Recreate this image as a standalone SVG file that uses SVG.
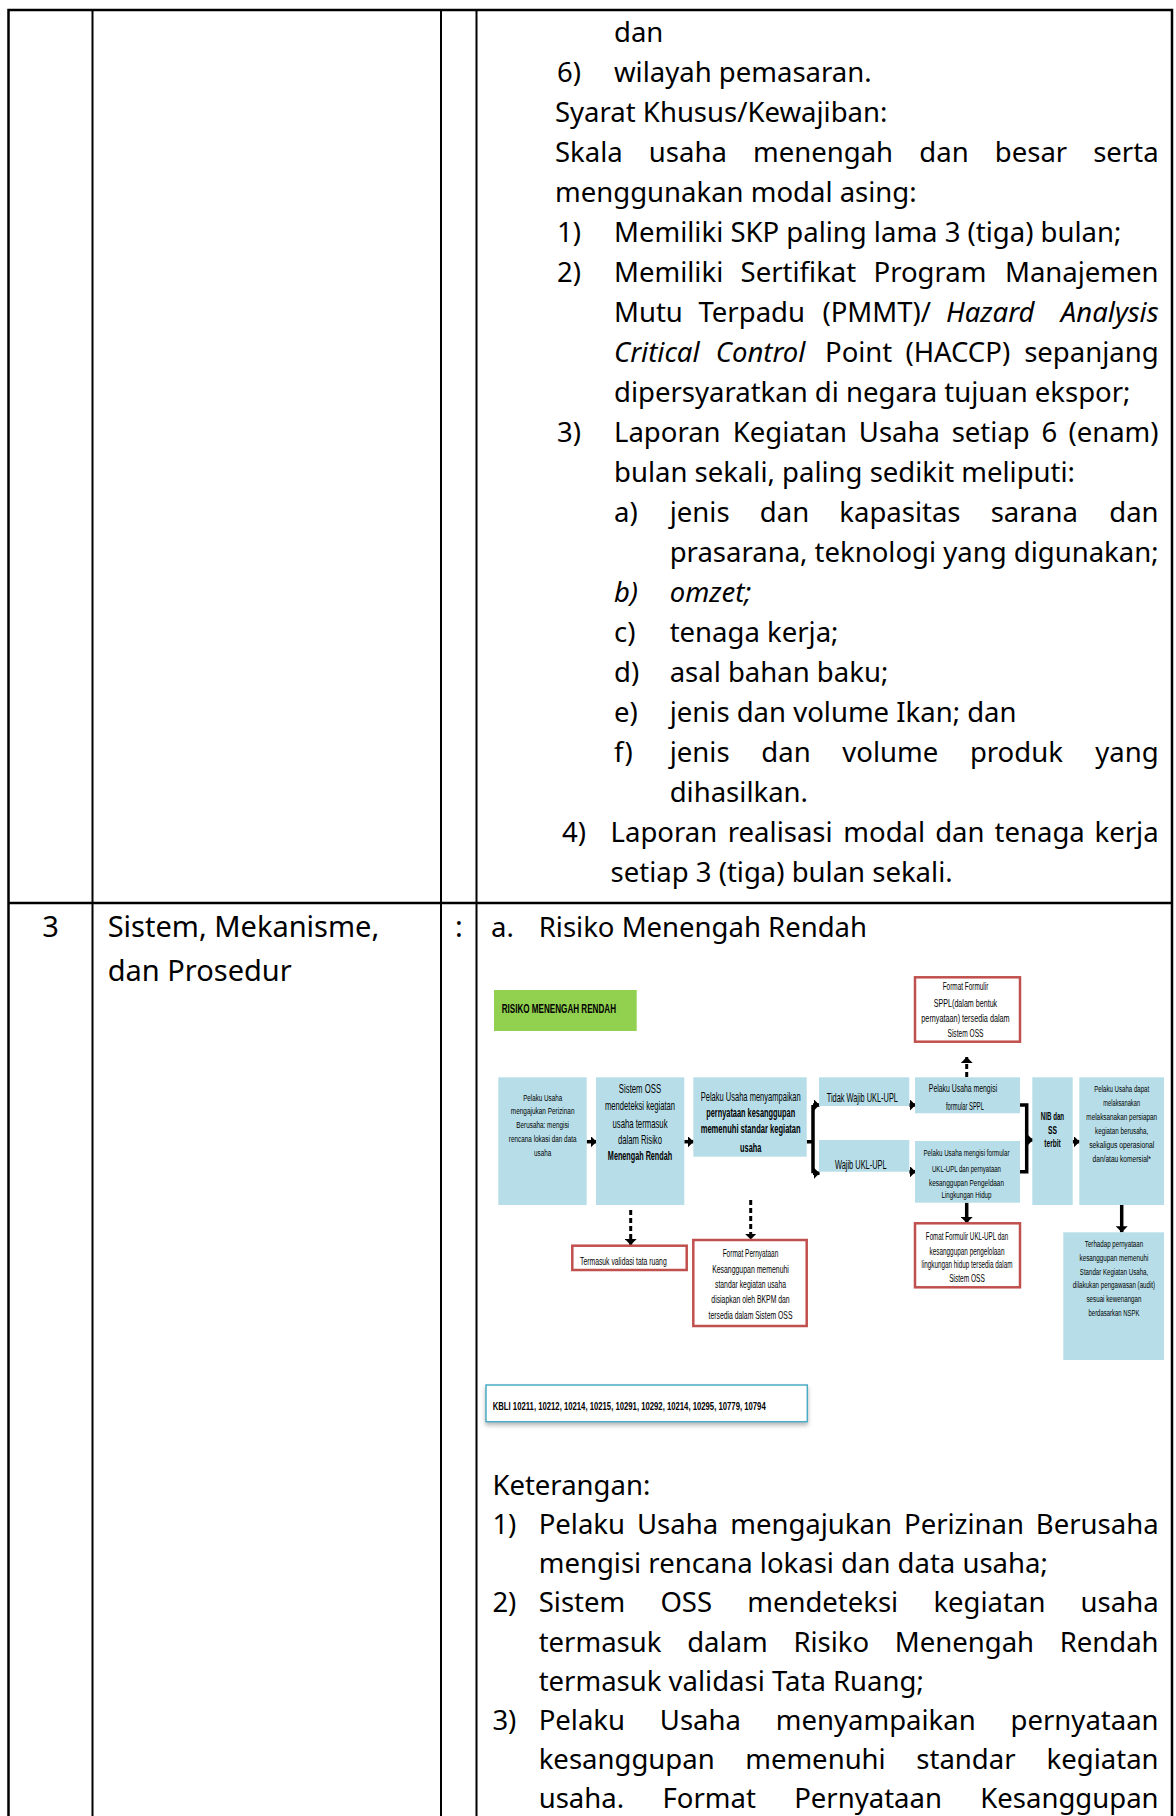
<svg xmlns="http://www.w3.org/2000/svg" width="1176" height="1816" viewBox="0 0 1176 1816">
<style>
.t{font-family:"Noto Sans","Open Sans",sans-serif;font-size:27.5px;fill:#000}
.t3{font-family:"Noto Sans","Open Sans",sans-serif;font-size:29px;fill:#000}
.it{font-style:italic}
.e{text-anchor:end}
.tl{stroke:#000;stroke-width:2.5;fill:none}
.tli{stroke:#000;stroke-width:2;fill:none}
.d{font-family:"Liberation Sans",Arial,sans-serif;font-size:10px;fill:#000;text-anchor:middle}
.s{text-anchor:start}
.ds{font-size:9.5px}
.dl{font-size:12px}
.b{font-weight:bold}
.blue{fill:#B7DEE8}
.red{fill:#fff;stroke:#C0504D;stroke-width:2.5}
.c{stroke:#000;stroke-width:3.5;fill:none}
.cd{stroke:#000;stroke-width:3;fill:none;stroke-dasharray:5 3}
</style>
<defs>
<marker id="ah" viewBox="0 0 6 12" refX="6" refY="6" markerWidth="6" markerHeight="12" markerUnits="userSpaceOnUse" orient="auto"><path d="M0,0 L6,6 L0,12 Z" fill="#000"/></marker>
<marker id="ahb" viewBox="0 0 8 16" refX="8" refY="8" markerWidth="8" markerHeight="16" markerUnits="userSpaceOnUse" orient="auto"><path d="M0,0 L8,8 L0,16 Z" fill="#000"/></marker>
<filter id="sh" x="-5%" y="-20%" width="110%" height="160%"><feDropShadow dx="0" dy="3" stdDeviation="2" flood-color="#888" flood-opacity="0.6"/></filter>
</defs>
<rect width="1176" height="1816" fill="#fff"/>

<g id="table">
<path class="tl" d="M8.5,1816 V10 H1172 V1816"/>
<path class="tli" d="M92.5,10 V1816 M441,10 V1816 M476.5,10 V1816"/>
<path class="tl" d="M8.5,903 H1172"/>
</g>

<g id="upper-text">
<text class="t" x="614" y="42">dan</text>
<text class="t" x="557" y="82">6)</text><text class="t" x="614" y="82">wilayah pemasaran.</text>
<text class="t" x="555" y="122">Syarat Khusus/Kewajiban:</text>
<text class="t" y="162"><tspan x="555">Skala</tspan><tspan x="648.8">usaha</tspan><tspan x="753">menengah</tspan><tspan x="919.3">dan</tspan><tspan x="994.8">besar</tspan></text><text class="t e" x="1158.6" y="162">serta</text>
<text class="t" x="555" y="202">menggunakan modal asing:</text>
<text class="t" x="557" y="242">1)</text><text class="t" x="614" y="242">Memiliki SKP paling lama 3 (tiga) bulan;</text>
<text class="t" x="557" y="282">2)</text>
<text class="t" y="282"><tspan x="614">Memiliki</tspan><tspan x="740.6">Sertifikat</tspan><tspan x="873.5">Program</tspan></text><text class="t e" x="1158.6" y="282">Manajemen</text>
<text class="t" y="322"><tspan x="614">Mutu</tspan><tspan x="698.5">Terpadu</tspan><tspan x="822.4">(PMMT)/</tspan><tspan x="946" class="it">Hazard</tspan></text><text class="t e it" x="1158.6" y="322">Analysis</text>
<text class="t" y="362"><tspan x="614" class="it">Critical</tspan><tspan x="715.8" class="it">Control</tspan><tspan x="825">Point</tspan><tspan x="905.4">(HACCP)</tspan></text><text class="t e" x="1158.6" y="362">sepanjang</text>
<text class="t" x="614" y="402">dipersyaratkan di negara tujuan ekspor;</text>
<text class="t" x="557" y="442">3)</text>
<text class="t" y="442"><tspan x="614">Laporan</tspan><tspan x="732.8">Kegiatan</tspan><tspan x="858.8">Usaha</tspan><tspan x="951.7">setiap</tspan><tspan x="1041.4">6</tspan></text><text class="t e" x="1158.6" y="442">(enam)</text>
<text class="t" x="614" y="482">bulan sekali, paling sedikit meliputi:</text>
<text class="t" x="614" y="522">a)</text>
<text class="t" y="522"><tspan x="669.7">jenis</tspan><tspan x="759.8">dan</tspan><tspan x="839.3">kapasitas</tspan><tspan x="990.7">sarana</tspan></text><text class="t e" x="1158.6" y="522">dan</text>
<text class="t" x="669.7" y="562">prasarana, teknologi yang digunakan;</text>
<text class="t it" x="614" y="602">b)</text><text class="t it" x="669.7" y="602">omzet;</text>
<text class="t" x="614" y="642">c)</text><text class="t" x="669.7" y="642">tenaga kerja;</text>
<text class="t" x="614" y="682">d)</text><text class="t" x="669.7" y="682">asal bahan baku;</text>
<text class="t" x="614" y="722">e)</text><text class="t" x="669.7" y="722">jenis dan volume Ikan; dan</text>
<text class="t" x="614" y="762">f)</text>
<text class="t" y="762"><tspan x="669.7">jenis</tspan><tspan x="761.3">dan</tspan><tspan x="842.3">volume</tspan><tspan x="969.9">produk</tspan></text><text class="t e" x="1158.6" y="762">yang</text>
<text class="t" x="669.7" y="802">dihasilkan.</text>
<text class="t" x="562" y="842">4)</text>
<text class="t" y="842"><tspan x="610.6">Laporan</tspan><tspan x="727.8">realisasi</tspan><tspan x="843.3">modal</tspan><tspan x="935.2">dan</tspan><tspan x="994.6">tenaga</tspan></text><text class="t e" x="1158.6" y="842">kerja</text>
<text class="t" x="610.6" y="882">setiap 3 (tiga) bulan sekali.</text>
</g>

<g id="row3-text">
<text class="t3" x="50.5" y="937" text-anchor="middle">3</text>
<text class="t3" x="107.7" y="937">Sistem, Mekanisme,</text>
<text class="t3" x="107.7" y="981">dan Prosedur</text>
<text class="t3" x="458.8" y="937" text-anchor="middle">:</text>
<text class="t" x="491" y="937">a.</text>
<text class="t" x="538.7" y="937">Risiko Menengah Rendah</text>
</g>

<g id="title">
<rect x="494" y="990" width="142.7" height="41" fill="#92D050"/>
<g transform="scale(0.65,1)"><text class="d s b dl" x="771.85" y="1013.2" textLength="175.85" lengthAdjust="spacingAndGlyphs">RISIKO MENENGAH RENDAH</text></g>
</g>

<g id="connectors">
<path class="c" d="M586.7,1141.7 H596.5" marker-end="url(#ah)"/>
<path class="c" d="M684.3,1141.7 H693.5" marker-end="url(#ah)"/>
<path class="c" d="M806.7,1141.7 H813 M813,1105 V1173.3"/>
<path class="c" d="M813,1105 H819.5" marker-end="url(#ah)"/>
<path class="c" d="M813,1173.3 H819.5" marker-end="url(#ah)"/>
<path class="c" d="M909.3,1105 H915.5" marker-end="url(#ah)"/>
<path class="c" d="M909.3,1171.7 H915.5" marker-end="url(#ah)"/>
<path class="c" d="M1020,1105 H1026.7 V1171.7 H1020"/>
<path class="c" d="M1026.7,1140 H1033" marker-end="url(#ahb)"/>
<path class="c" d="M1072.7,1141.7 H1079.5" marker-end="url(#ah)"/>
<path class="cd" d="M966.7,1077 V1057" marker-end="url(#ah)"/>
<path class="cd" d="M630.7,1210 V1245" marker-end="url(#ah)"/>
<path class="cd" d="M750.7,1200 V1239.5" marker-end="url(#ah)"/>
<path class="c" d="M966.7,1202.7 V1223" marker-end="url(#ah)"/>
<path class="c" d="M1121.7,1205 V1232.3" marker-end="url(#ah)"/>
</g>

<g id="n1">
<rect class="blue" x="498.3" y="1077.3" width="88.4" height="127.7"/>
<g transform="scale(0.65,1)">
<text class="d ds" x="834.92" y="1101" textLength="60" lengthAdjust="spacingAndGlyphs">Pelaku Usaha</text>
<text class="d ds" x="834.92" y="1114.5" textLength="98" lengthAdjust="spacingAndGlyphs">mengajukan Perizinan</text>
<text class="d ds" x="834.92" y="1128.5" textLength="81.08" lengthAdjust="spacingAndGlyphs">Berusaha: mengisi</text>
<text class="d ds" x="834.92" y="1142.5" textLength="104.15" lengthAdjust="spacingAndGlyphs">rencana lokasi dan data</text>
<text class="d ds" x="834.92" y="1156" textLength="26.62" lengthAdjust="spacingAndGlyphs">usaha</text>
</g>
</g>

<g id="n2">
<rect class="blue" x="596" y="1077.3" width="88.3" height="127.7"/>
<g transform="scale(0.65,1)">
<text class="d dl" x="984.62" y="1092.7" textLength="65.08" lengthAdjust="spacingAndGlyphs">Sistem OSS</text>
<text class="d dl" x="984.62" y="1110.4" textLength="107.69" lengthAdjust="spacingAndGlyphs">mendeteksi kegiatan</text>
<text class="d dl" x="984.62" y="1127.7" textLength="84.62" lengthAdjust="spacingAndGlyphs">usaha termasuk</text>
<text class="d dl" x="984.62" y="1144.4" textLength="67.69" lengthAdjust="spacingAndGlyphs">dalam Risiko</text>
<text class="d dl b" x="984.62" y="1159.7" textLength="98.92" lengthAdjust="spacingAndGlyphs">Menengah Rendah</text>
</g>
</g>

<g id="n3">
<rect class="blue" x="693.3" y="1077.3" width="113.4" height="79.4"/>
<g transform="scale(0.65,1)">
<text class="d dl" x="1154.92" y="1100.9" textLength="153.85" lengthAdjust="spacingAndGlyphs">Pelaku Usaha menyampaikan</text>
<text class="d dl b" x="1154.92" y="1116.9" textLength="136.92" lengthAdjust="spacingAndGlyphs">pernyataan kesanggupan</text>
<text class="d dl b" x="1154.92" y="1133.5" textLength="153.85" lengthAdjust="spacingAndGlyphs">memenuhi standar kegiatan</text>
<text class="d dl b" x="1154.92" y="1151.9" textLength="32.77" lengthAdjust="spacingAndGlyphs">usaha</text>
</g>
</g>

<g id="n-tidak">
<rect class="blue" x="819" y="1077.3" width="90.3" height="28.7"/>
<g transform="scale(0.65,1)"><text class="d dl" x="1326.62" y="1102.5" textLength="109.69" lengthAdjust="spacingAndGlyphs">Tidak Wajib UKL-UPL</text></g>
</g>

<g id="n-wajib">
<rect class="blue" x="819" y="1140" width="90.3" height="31.7"/>
<g transform="scale(0.65,1)"><text class="d dl" x="1324.31" y="1169.2" textLength="79.54" lengthAdjust="spacingAndGlyphs">Wajib UKL-UPL</text></g>
</g>

<g id="n-sppl">
<rect class="blue" x="915" y="1077.3" width="105" height="36"/>
<g transform="scale(0.65,1)">
<text class="d" x="1481.54" y="1092.2" textLength="105.08" lengthAdjust="spacingAndGlyphs">Pelaku Usaha mengisi</text>
<text class="d" x="1484.62" y="1109.9" textLength="58.46" lengthAdjust="spacingAndGlyphs">formular SPPL</text>
</g>
</g>

<g id="n-ukl">
<rect class="blue" x="915" y="1141" width="105" height="61.7"/>
<g transform="scale(0.65,1)">
<text class="d ds" x="1486.92" y="1156" textLength="132.31" lengthAdjust="spacingAndGlyphs">Pelaku Usaha mengisi formular</text>
<text class="d ds" x="1486.92" y="1171.6" textLength="106.15" lengthAdjust="spacingAndGlyphs">UKL-UPL dan pernyataan</text>
<text class="d ds" x="1486.92" y="1185.6" textLength="115.38" lengthAdjust="spacingAndGlyphs">kesanggupan Pengeldaan</text>
<text class="d ds" x="1486.92" y="1198.3" textLength="76.92" lengthAdjust="spacingAndGlyphs">Lingkungan Hidup</text>
</g>
</g>

<g id="n-nib">
<rect class="blue" x="1032.3" y="1077.3" width="40.4" height="127.7"/>
<g transform="scale(0.65,1)">
<text class="d b" x="1619.23" y="1120.5" font-size="11" textLength="35.85" lengthAdjust="spacingAndGlyphs">NIB dan</text>
<text class="d b" x="1619.23" y="1133.8" font-size="11" textLength="13.85" lengthAdjust="spacingAndGlyphs">SS</text>
<text class="d b" x="1619.23" y="1147.1" font-size="11" textLength="25.08" lengthAdjust="spacingAndGlyphs">terbit</text>
</g>
</g>

<g id="n-last">
<rect class="blue" x="1079.3" y="1077.3" width="84.7" height="127.7"/>
<g transform="scale(0.65,1)">
<text class="d ds" x="1725.69" y="1091.6" textLength="84.62" lengthAdjust="spacingAndGlyphs">Pelaku Usaha dapat</text>
<text class="d ds" x="1725.69" y="1106" textLength="56.46" lengthAdjust="spacingAndGlyphs">melaksanakan</text>
<text class="d ds" x="1725.69" y="1120" textLength="108.77" lengthAdjust="spacingAndGlyphs">melaksanakan persiapan</text>
<text class="d ds" x="1725.69" y="1134" textLength="82" lengthAdjust="spacingAndGlyphs">kegiatan berusaha,</text>
<text class="d ds" x="1725.69" y="1148.3" textLength="100" lengthAdjust="spacingAndGlyphs">sekaligus operasional</text>
<text class="d ds" x="1725.69" y="1161.6" textLength="89.69" lengthAdjust="spacingAndGlyphs">dan/atau komersial*</text>
</g>
</g>

<g id="n-terhadap">
<rect class="blue" x="1063.3" y="1232.3" width="100.7" height="127.7"/>
<g transform="scale(0.65,1)">
<text class="d ds" x="1713.85" y="1246.6" textLength="89.69" lengthAdjust="spacingAndGlyphs">Terhadap pernyataan</text>
<text class="d ds" x="1713.85" y="1260.6" textLength="106.15" lengthAdjust="spacingAndGlyphs">kesanggupan memenuhi</text>
<text class="d ds" x="1713.85" y="1275" textLength="105.08" lengthAdjust="spacingAndGlyphs">Standar Kegiatan Usaha,</text>
<text class="d ds" x="1713.85" y="1288.3" textLength="126.62" lengthAdjust="spacingAndGlyphs">dilakukan pengawasan (audit)</text>
<text class="d ds" x="1713.85" y="1302.3" textLength="84.62" lengthAdjust="spacingAndGlyphs">sesuai kewenangan</text>
<text class="d ds" x="1713.85" y="1315.6" textLength="78.46" lengthAdjust="spacingAndGlyphs">berdasarkan NSPK</text>
</g>
</g>

<g id="r-sppl">
<rect class="red" x="915" y="977.3" width="105" height="64.4"/>
<g transform="scale(0.65,1)">
<text class="d" x="1485.38" y="990.2" textLength="70.31" lengthAdjust="spacingAndGlyphs">Format Formulir</text>
<text class="d" x="1485.38" y="1006.8" textLength="97.38" lengthAdjust="spacingAndGlyphs">SPPL(dalam bentuk</text>
<text class="d" x="1485.38" y="1021.8" textLength="135.85" lengthAdjust="spacingAndGlyphs">pernyataan) tersedia dalam</text>
<text class="d" x="1485.38" y="1036.8" textLength="55.38" lengthAdjust="spacingAndGlyphs">Sistem OSS</text>
</g>
</g>

<g id="r-tataruang">
<rect class="red" x="572.3" y="1245.7" width="114.4" height="24.3"/>
<g transform="scale(0.65,1)"><text class="d s" x="892.31" y="1265.2" textLength="133.38" lengthAdjust="spacingAndGlyphs">Termasuk validasi tata ruang</text></g>
</g>

<g id="r-pernyataan">
<rect class="red" x="693.3" y="1240" width="113.4" height="86"/>
<g transform="scale(0.65,1)">
<text class="d" x="1154.62" y="1256.8" textLength="85.69" lengthAdjust="spacingAndGlyphs">Format Pernyataan</text>
<text class="d" x="1154.62" y="1272.8" textLength="118" lengthAdjust="spacingAndGlyphs">Kesanggupan memenuhi</text>
<text class="d" x="1154.62" y="1288.5" textLength="109.23" lengthAdjust="spacingAndGlyphs">standar kegiatan usaha</text>
<text class="d" x="1154.62" y="1303.5" textLength="120.46" lengthAdjust="spacingAndGlyphs">disiapkan oleh BKPM dan</text>
<text class="d" x="1154.62" y="1319.5" textLength="129.23" lengthAdjust="spacingAndGlyphs">tersedia dalam Sistem OSS</text>
</g>
</g>

<g id="r-ukl">
<rect class="red" x="915" y="1223.3" width="105" height="64"/>
<g transform="scale(0.65,1)">
<text class="d" x="1487.69" y="1240.2" textLength="126.62" lengthAdjust="spacingAndGlyphs">Fomat Formulir UKL-UPL dan</text>
<text class="d" x="1487.69" y="1255.2" textLength="115.38" lengthAdjust="spacingAndGlyphs">kesanggupan pengelolaan</text>
<text class="d" x="1487.69" y="1268.5" textLength="140" lengthAdjust="spacingAndGlyphs">lingkungan hidup tersedia dalam</text>
<text class="d" x="1487.69" y="1281.8" textLength="54.92" lengthAdjust="spacingAndGlyphs">Sistem OSS</text>
</g>
</g>

<g id="kbli">
<rect x="486" y="1385" width="321.3" height="36.7" fill="#fff" stroke="#4BACC6" stroke-width="1.5" filter="url(#sh)"/>
<g transform="scale(0.65,1)"><text class="d s b" x="758" y="1410.2" textLength="420" lengthAdjust="spacingAndGlyphs">KBLI  10211, 10212, 10214, 10215, 10291, 10292, 10214, 10295, 10779, 10794</text></g>
</g>

<g id="lower-text">
<text class="t" x="492.4" y="1495">Keterangan:</text>
<text class="t" x="492.4" y="1534.15">1)</text>
<text class="t" y="1534.15"><tspan x="538.7">Pelaku</tspan><tspan x="637">Usaha</tspan><tspan x="730.2">mengajukan</tspan><tspan x="904">Perizinan</tspan></text><text class="t e" x="1158.6" y="1534.15">Berusaha</text>
<text class="t" x="538.7" y="1573.3">mengisi rencana lokasi dan data usaha;</text>
<text class="t" x="492.4" y="1612.45">2)</text>
<text class="t" y="1612.45"><tspan x="538.7">Sistem</tspan><tspan x="660.4">OSS</tspan><tspan x="747.2">mendeteksi</tspan><tspan x="933.4">kegiatan</tspan></text><text class="t e" x="1158.6" y="1612.45">usaha</text>
<text class="t" y="1651.6"><tspan x="538.7">termasuk</tspan><tspan x="687.2">dalam</tspan><tspan x="793.4">Risiko</tspan><tspan x="894.8">Menengah</tspan></text><text class="t e" x="1158.6" y="1651.6">Rendah</text>
<text class="t" x="538.7" y="1690.75">termasuk validasi Tata Ruang;</text>
<text class="t" x="492.4" y="1729.9">3)</text>
<text class="t" y="1729.9"><tspan x="538.7">Pelaku</tspan><tspan x="659.8">Usaha</tspan><tspan x="775.8">menyampaikan</tspan></text><text class="t e" x="1158.6" y="1729.9">pernyataan</text>
<text class="t" y="1769.05"><tspan x="538.7">kesanggupan</tspan><tspan x="745.2">memenuhi</tspan><tspan x="916.3">standar</tspan></text><text class="t e" x="1158.6" y="1769.05">kegiatan</text>
<text class="t" y="1808.2"><tspan x="538.7">usaha.</tspan><tspan x="662.5">Format</tspan><tspan x="794.2">Pernyataan</tspan></text><text class="t e" x="1158.6" y="1808.2">Kesanggupan</text>
</g>
</svg>
